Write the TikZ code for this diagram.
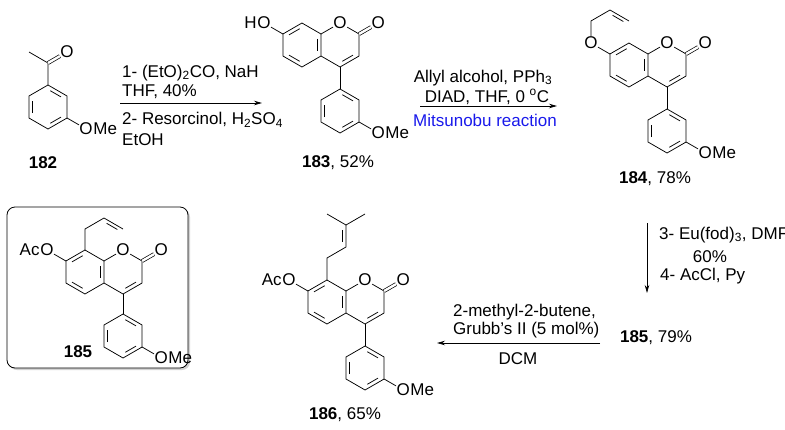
\documentclass[tikz,border=0pt]{standalone}
\usepackage{fontspec}
\setmainfont{Liberation Sans}
\usepackage{tikz}
\usetikzlibrary{calc,arrows.meta,shadows}

\definecolor{mitsublue}{RGB}{25,25,235}

\tikzset{
	bond/.style={line width=0.75pt},
	dbond/.style={double, double distance=2.4pt, line width=0.7pt},
	atom/.style={inner sep=0.3pt, font=\fontsize{17}{19}\selectfont},
	cond/.style={inner sep=0pt, font=\fontsize{17}{19}\selectfont},
	cmpd/.style={inner sep=0pt, font=\fontsize{17}{19}\selectfont},
	rxn/.style={line width=0.75pt, -{Stealth[length=8pt,width=4.5pt]}},
}

% inner line of a double bond, pushed toward #3
\newcommand{\inbond}[3]{\draw[bond] ($($(#1)!.15!(#2)$)!.2!(#3)$) -- ($($(#2)!.15!(#1)$)!.2!(#3)$);}

% coumarin core: prefix, x and y of C8a
\newcommand{\coumarin}[3]{%
	\coordinate (#1a) at (#2,#3);
	\coordinate (#1b) at (#2,#3+22);
	\coordinate (#1c8) at (#2-19.05,#3-11);
	\coordinate (#1c7) at (#2-38.1,#3);
	\coordinate (#1c6) at (#2-38.1,#3+22);
	\coordinate (#1c5) at (#2-19.05,#3+33);
	\node[atom] (#1oa) at (#2+19.05,#3-11) {O};
	\coordinate (#1c2) at (#2+38.1,#3);
	\coordinate (#1c3) at (#2+38.1,#3+22);
	\coordinate (#1c4) at (#2+19.05,#3+33);
	\node[atom] (#1ob) at (#2+57.15,#3-11) {O};
	\coordinate (#1l) at (#2-19.05,#3+11);
	\coordinate (#1r) at (#2+19.05,#3+11);
	\draw[bond] (#1a) -- (#1c8) -- (#1c7) -- (#1c6) -- (#1c5) -- (#1b) -- (#1a);
	\draw[bond] (#1a) -- (#1oa) -- (#1c2) -- (#1c3) -- (#1c4) -- (#1b);
	\draw[dbond] (#1c2) -- (#1ob);
	\inbond{#1c7}{#1c8}{#1l}
	\inbond{#1c5}{#1c6}{#1l}
	\inbond{#1a}{#1b}{#1l}
	\inbond{#1c3}{#1c4}{#1r}
}

% 3-methoxyphenyl: prefix, x and y of top atom
\newcommand{\anisyl}[3]{%
	\coordinate (#1t) at (#2,#3);
	\coordinate (#1tr) at (#2+19.05,#3+11);
	\coordinate (#1br) at (#2+19.05,#3+33);
	\coordinate (#1bo) at (#2,#3+44);
	\coordinate (#1bl) at (#2-19.05,#3+33);
	\coordinate (#1tl) at (#2-19.05,#3+11);
	\coordinate (#1m) at (#2,#3+22);
	\draw[bond] (#1t) -- (#1tr) -- (#1br) -- (#1bo) -- (#1bl) -- (#1tl) -- cycle;
	\inbond{#1t}{#1tr}{#1m}
	\inbond{#1br}{#1bo}{#1m}
	\inbond{#1bl}{#1tl}{#1m}
	\node[atom] (#1o) at (#2+38.1,#3+44) {O};
	\node[atom, anchor=west, inner sep=0pt] (#1me) at (#1o.east) {Me};
	\draw[bond] (#1br) -- (#1o);
}

\begin{document}
\begin{tikzpicture}[x=1pt,y=-1pt]
	\useasboundingbox (0,0) rectangle (785,429);

	%182
	\anisyl{sa}{48}{85}
	\coordinate (saco) at (48,63);
	\coordinate (same) at (29,52);
	\node[atom] (saox) at (67,52) {O};
	\draw[bond] (sat) -- (saco) -- (same);
	\draw[dbond] (saco) -- (saox);
	\node[cmpd] (lbla) at (43,163) {\textbf{182}};

	%arrow 1
	\coordinate (ra1) at (120,103);
	\coordinate (ra2) at (262,103);
	\draw[rxn] (ra1) -- (ra2);
	\node[cond, anchor=west] (ca1) at (122,73) {1- (EtO)\textsubscript{2}CO, NaH};
	\node[cond, anchor=west] (ca2) at (122,92) {THF, 40\%};
	\node[cond, anchor=west] (ca3) at (122,120) {2- Resorcinol, H\textsubscript{2}SO\textsubscript{4}};
	\node[cond, anchor=west] (ca4) at (122,140) {EtOH};

	%183
	\coumarin{sb}{321}{34}
	\node[atom] (sbho) at (263.9,23) {O};
	\node[atom, anchor=east, inner sep=0pt] (sbh) at (sbho.west) {H};
	\draw[bond] (sbc7) -- (sbho);
	\anisyl{sbp}{340.05}{89}
	\draw[bond] (sbc4) -- (sbpt);
	\node[cmpd] (lblb) at (338,163) {\textbf{183}, 52\%};

	%arrow 2
	\coordinate (rb1) at (420,106);
	\coordinate (rb2) at (557,106);
	\draw[rxn] (rb1) -- (rb2);
	\node[cond] (cb1) at (483,78) {Allyl alcohol, PPh\textsubscript{3}};
	\node[cond] (cb2) at (487,97) {DIAD, THF, 0 \textsuperscript{o}C};
	\node[cond, text=mitsublue] (cb3) at (485,120) {Mitsunobu reaction};

	%184
	\coumarin{sc}{648}{54}
	\node[atom] (scox) at (590.9,43) {O};
	\coordinate (scal1) at (590.9,21);
	\coordinate (scal2) at (610,10);
	\coordinate (scal3) at (629,21);
	\coordinate (scals) at (612,30);
	\draw[bond] (scc7) -- (scox) -- (scal1) -- (scal2) -- (scal3);
	\inbond{scal2}{scal3}{scals}
	\anisyl{scp}{667.05}{109}
	\draw[bond] (scc4) -- (scpt);
	\node[cmpd] (lblc) at (655,179) {\textbf{184}, 78\%};

	%arrow 3
	\coordinate (rc1) at (647,223);
	\coordinate (rc2) at (647,293);
	\draw[rxn] (rc1) -- (rc2);
	\node[cond, anchor=west] (cc1) at (659,235) {3- Eu(fod)\textsubscript{3}, DMF};
	\node[cond] (cc2) at (710,257) {60\%};
	\node[cond, anchor=west] (cc3) at (660,276) {4- AcCl, Py};
	\node[cmpd] (lbld) at (656,338) {\textbf{185}, 79\%};

	%arrow 4
	\coordinate (rd1) at (600,343);
	\coordinate (rd2) at (437,343);
	\draw[rxn] (rd1) -- (rd2);
	\node[cond, anchor=west] (cd1) at (453,312) {2-methyl-2-butene,};
	\node[cond, anchor=west] (cd2) at (453,330) {Grubb's II (5 mol\%)};
	\node[cond] (cd3) at (518,359) {DCM};

	%185 in box
	\draw[line width=0.8pt, rounded corners=8pt, fill=white, drop shadow={shadow xshift=2pt, shadow yshift=-2pt, fill=gray!70}] (7,207) rectangle (188,368);
	\coumarin{sd}{104}{261}
	\node[atom] (sdox) at (46.9,250) {O};
	\node[atom, anchor=east, inner sep=0pt] (sdac) at (sdox.west) {Ac};
	\draw[bond] (sdc7) -- (sdox);
	\coordinate (sdal1) at (85,229);
	\coordinate (sdal2) at (104,218);
	\coordinate (sdal3) at (123,229);
	\coordinate (sdals) at (106,238);
	\draw[bond] (sdc8) -- (sdal1) -- (sdal2) -- (sdal3);
	\inbond{sdal2}{sdal3}{sdals}
	\anisyl{sdp}{123.05}{314}
	\draw[bond] (sdc4) -- (sdpt);
	\node[cmpd] (lble) at (78,352) {\textbf{185}};

	%186
	\coumarin{se}{346}{291}
	\node[atom] (seox) at (288.9,280) {O};
	\node[atom, anchor=east, inner sep=0pt] (seac) at (seox.west) {Ac};
	\draw[bond] (sec7) -- (seox);
	\coordinate (sepr1) at (327,258);
	\coordinate (sepr2) at (346,247);
	\coordinate (sepr3) at (346,225);
	\coordinate (sepr4) at (327,214);
	\coordinate (sepr5) at (365,214);
	\coordinate (seprs) at (330,236);
	\draw[bond] (sec8) -- (sepr1) -- (sepr2) -- (sepr3) -- (sepr4);
	\draw[bond] (sepr3) -- (sepr5);
	\inbond{sepr2}{sepr3}{seprs}
	\anisyl{sep}{365.05}{346}
	\draw[bond] (sec4) -- (sept);
	\node[cmpd] (lblf) at (345,415) {\textbf{186}, 65\%};
\end{tikzpicture}
\end{document}
